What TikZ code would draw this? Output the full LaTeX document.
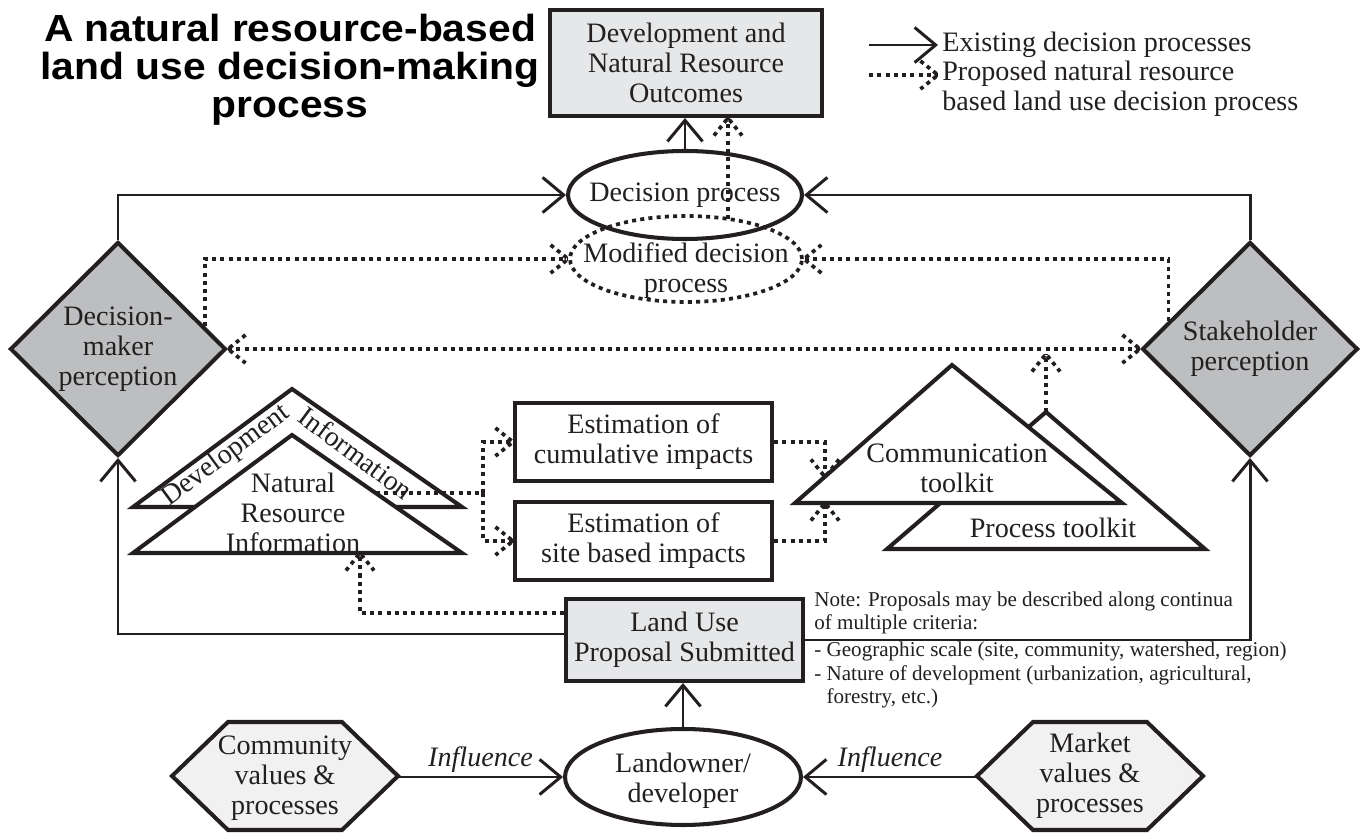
\documentclass[tikz,border=0pt]{standalone}
\usepackage{fontspec}
\setmainfont{Liberation Serif}
\newfontfamily\titlefont[FakeStretch=1.08]{Liberation Sans}
\usetikzlibrary{arrows.meta,shapes.geometric,calc,decorations.markings}

\definecolor{ink}{HTML}{231F20}
\definecolor{boxgray}{HTML}{E6E7E8}
\definecolor{diagray}{HTML}{BCBEC0}
\definecolor{hexgray}{HTML}{F1F1F2}

\tikzset{
	txt/.style={font=\fontsize{16}{17}\selectfont, align=center, text=ink, inner sep=0pt},
	notetxt/.style={font=\fontsize{12}{13.2}\selectfont, align=left, text=ink, inner sep=0pt, anchor=west},
	titletxt/.style={font=\titlefont\bfseries\fontsize{21.5}{21.5}\selectfont, align=center, text=black, inner sep=0pt},
	inftxt/.style={font=\fontsize{16}{17}\selectfont\itshape, text=ink, above, inner sep=1.5pt},
	border/.style={draw=ink, line width=2.3pt},
	outbox/.style={border, rectangle, fill=boxgray, minimum width=5.44cm, minimum height=2.12cm, txt},
	estbox/.style={border, rectangle, fill=white, minimum width=5.14cm, minimum height=1.56cm, txt},
	lubox/.style={border, rectangle, fill=boxgray, minimum width=4.74cm, minimum height=1.64cm, txt},
	percep/.style={border, diamond, fill=diagray, minimum width=4.32cm, minimum height=4.28cm, txt},
	decell/.style={border, ellipse, fill=white, inner sep=0pt, minimum width=4.68cm, minimum height=1.76cm},
	modell/.style={dotline, ellipse, inner sep=0pt, minimum width=4.64cm, minimum height=1.72cm},
	loell/.style={border, ellipse, fill=white, inner sep=0pt, minimum width=4.72cm, minimum height=1.92cm},
	tri/.style={border, fill=white, line join=miter},
	hexline/.style={border, fill=hexgray},
	conn/.style={draw=ink, line width=1.7pt, -{Straight Barb[length=12pt, width=20pt]}},
	dotline/.style={draw=ink, line width=2.1pt, dash pattern=on 2.3pt off 2.4pt},
	dotarrow/.style={dotline, postaction={decorate, decoration={markings,
		mark=at position 1 with {\draw[dotline] (-10pt,8pt) -- (0pt,0pt) -- (-10pt,-8pt);}}}},
	dotboth/.style={dotline, postaction={decorate, decoration={markings,
		mark=at position 0 with {\draw[dotline] (10pt,8pt) -- (0pt,0pt) -- (10pt,-8pt);},
		mark=at position 1 with {\draw[dotline] (-10pt,8pt) -- (0pt,0pt) -- (-10pt,-8pt);}}}}
}

\begin{document}
\begin{tikzpicture}[x=0.02cm, y=-0.02cm]
	\useasboundingbox (0, 0) rectangle (1360, 834);

	\node[titletxt] (title) at (290, 70) {A natural resource-based\\land use decision-making\\process};

	\coordinate (lg-a1) at (869, 45);
	\coordinate (lg-a2) at (938, 45);
	\coordinate (lg-b1) at (869, 75);
	\coordinate (lg-b2) at (938, 75);
	\draw[conn] (lg-a1) -- (lg-a2);
	\draw[dotarrow] (lg-b1) -- (lg-b2);
	\node[txt, anchor=west] (lg-t1) at (942, 45) {Existing decision processes};
	\node[txt, anchor=west, align=left] (lg-t2) at (942, 89) {Proposed natural resource\\based land use decision process};

	\node[outbox] (out) at (686, 63) {Development and\\Natural Resource\\Outcomes};

	\node[decell] (dp) at (685, 195) {};
	\node[txt] (dp-t) at (dp) {Decision process};
	\node[modell] (md) at (686, 259) {};
	\node[txt] (md-t) at (686, 271) {Modified decision\\process};

	\node[percep] (dm) at (118, 349) {Decision-\\maker\\perception};
	\node[percep] (sh) at (1250, 349) {Stakeholder\\perception};

	\draw[tri] (292, 389) -- (462, 507) -- (133, 507) -- cycle;
	\draw[tri] (292, 435) -- (462, 553) -- (133, 553) -- cycle;
	\node[txt, rotate=36.6] (di-l) at (226, 456) {Development};
	\node[txt, rotate=-36.6] (di-r) at (356, 453) {Information};
	\node[txt] (nr) at (293, 513) {Natural\\Resource\\Information};

	\node[estbox] (ce) at (643.5, 442) {Estimation of\\cumulative impacts};
	\node[estbox] (se) at (643.5, 541) {Estimation of\\site based impacts};

	\draw[tri] (1046, 412) -- (1205, 549) -- (887, 549) -- cycle;
	\draw[tri] (952, 365) -- (1122, 503) -- (795, 503) -- cycle;
	\node[txt] (ck) at (957, 468) {Communication\\toolkit};
	\node[txt] (pk) at (1053, 528) {Process toolkit};

	\node[lubox] (lu) at (684.5, 640) {Land Use\\Proposal Submitted};
	\node[notetxt] (note-a) at (814, 613) {Note: Proposals may be described along continua\\of multiple criteria:};
	\node[notetxt] (note-b) at (814, 675) {- Geographic scale (site, community, watershed, region)\\- Nature of development (urbanization, agricultural,\\\hphantom{-}\ forestry, etc.)};

	\node[loell] (lo) at (683, 777) {};
	\node[txt] (lo-t) at (683, 781) {Landowner/\\developer};

	\coordinate (cvc) at (285, 776);
	\draw[hexline] (cvc) +(-113, 0) -- +(-57, -54) -- +(57, -54) -- +(113, 0) -- +(57, 54) -- +(-57, 54) -- cycle;
	\node[txt] (cv) at (285, 778) {Community\\values \&\\processes};
	\coordinate (mvc) at (1090, 776);
	\draw[hexline] (mvc) +(-113, 0) -- +(-57, -54) -- +(57, -54) -- +(113, 0) -- +(57, 54) -- +(-57, 54) -- cycle;
	\node[txt] (mv) at (1090, 776) {Market\\values \&\\processes};
	\coordinate (cv-tip) at (398, 777);
	\coordinate (mv-tip) at (977, 777);

	\draw[conn] (dm.north) |- (dp.west);
	\draw[conn] (sh.north) |- (dp.east);
	\draw[conn] (dp.north) -- (dp.north |- out.south);
	\coordinate (lu-sol) at ($(lu.west)+(0, -6)$);
	\draw[conn] (lu-sol) -| (dm.south);
	\draw[conn] (lu.east) -| (sh.south);
	\draw[conn] (lo.north) -- (lo.north |- lu.south);
	\draw[conn] (cv-tip) -- node[inftxt] {Influence} (lo.west);
	\draw[conn] (mv-tip) -- node[inftxt] {Influence} (lo.east);

	\coordinate (dm-up) at ($(dm.north)!0.79!(dm.east)$);
	\coordinate (sh-up) at ($(sh.north)!0.74!(sh.west)$);
	\draw[dotarrow] (dm-up) |- (md.west);
	\draw[dotarrow] (sh-up) |- (md.east);
	\draw[dotboth] (dm.east) -- (sh.west);
	\coordinate (md-top) at ($(md.center)+(42, -40)$);
	\draw[dotarrow] (md-top) -- (md-top |- out.south);
	\coordinate (pk-top) at (1046, 412);
	\coordinate (pk-up) at (1046, 354);
	\draw[dotarrow] (pk-top) -- (pk-up);

	\coordinate (nr-out) at (376, 493);
	\coordinate (fork) at (483, 493);
	\draw[dotline] (nr-out) -- (fork);
	\draw[dotarrow] (fork) |- (ce.west);
	\draw[dotarrow] (fork) |- (se.west);
	\coordinate (ck-a) at (825, 477);
	\coordinate (ck-b) at (825, 503);
	\draw[dotarrow] (ce.east) -| (ck-a);
	\draw[dotarrow] (se.east) -| (ck-b);
	\coordinate (lu-dot) at ($(lu.west)+(0, -27)$);
	\coordinate (nr-in) at (360, 553);
	\draw[dotarrow] (lu-dot) -| (nr-in);
\end{tikzpicture}
\end{document}
